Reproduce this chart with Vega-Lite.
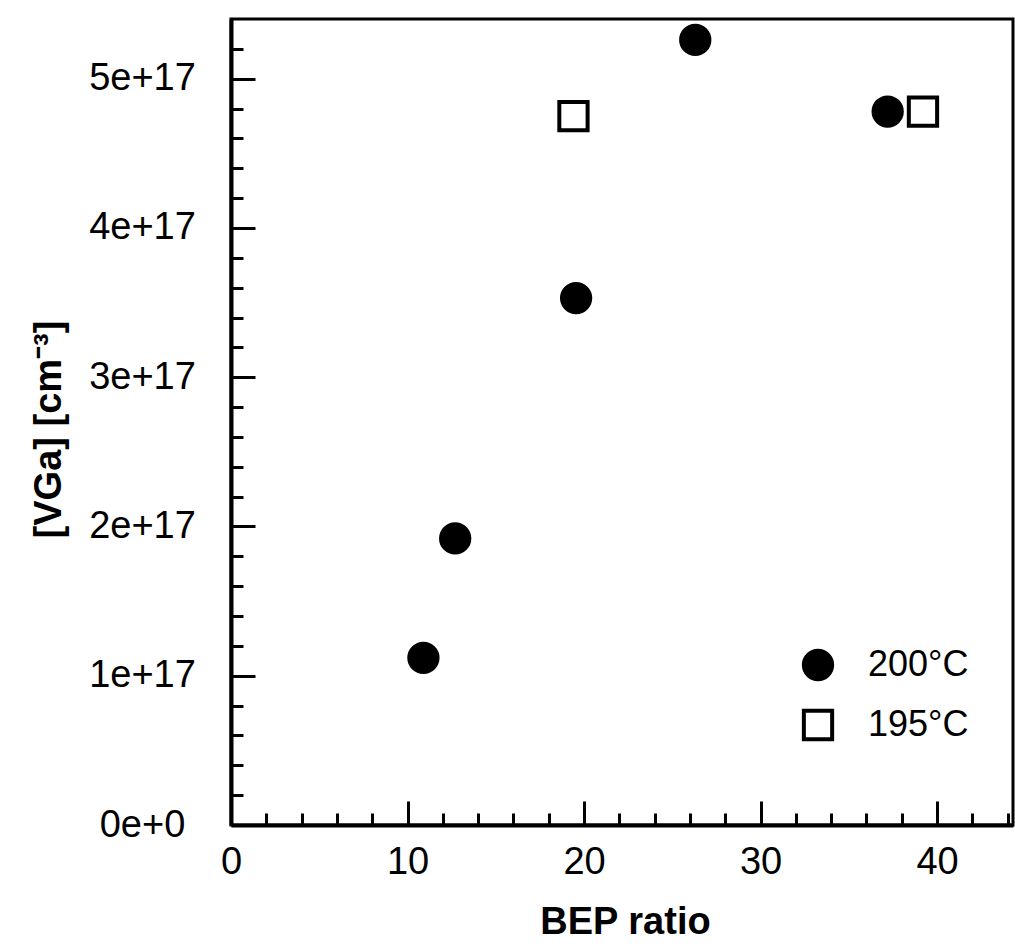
{
  "$schema": "https://vega.github.io/schema/vega-lite/v6.json",
  "width": 782,
  "height": 806,
  "autosize": {"type": "none"},
  "padding": {"left": 231, "top": 19, "right": 2, "bottom": 122},
  "background": "white",
  "config": {
    "font": "Liberation Sans",
    "view": {"stroke": "black", "strokeWidth": 3},
    "axis": {
      "domainColor": "black",
      "domainWidth": 4,
      "tickColor": "black",
      "tickWidth": 3,
      "labelColor": "black",
      "labelFont": "Liberation Sans",
      "labelFontSize": 38,
      "titleColor": "black",
      "titleFont": "Liberation Sans",
      "titleFontSize": 38,
      "titleFontWeight": "bold",
      "grid": false
    }
  },
  "data": {
    "values": [
      {"bep": 10.9, "vga": 1.12e17, "temp": "200°C"},
      {"bep": 12.7, "vga": 1.92e17, "temp": "200°C"},
      {"bep": 19.55, "vga": 3.53e17, "temp": "200°C"},
      {"bep": 26.3, "vga": 5.26e17, "temp": "200°C"},
      {"bep": 37.2, "vga": 4.78e17, "temp": "200°C"},
      {"bep": 19.4, "vga": 4.75e17, "temp": "195°C"},
      {"bep": 39.2, "vga": 4.78e17, "temp": "195°C"}
    ]
  },
  "layer": [
    {
      "mark": {"type": "point", "opacity": 0},
      "encoding": {
        "x": {
          "field": "bep",
          "type": "quantitative",
          "scale": {"domain": [0, 44.3], "nice": false, "zero": false},
          "axis": {
            "orient": "bottom",
            "title": null,
            "labels": false,
            "domain": false,
            "values": [2, 4, 6, 8, 12, 14, 16, 18, 22, 24, 26, 28, 32, 34, 36, 38, 42, 44],
            "tickSize": -12
          }
        },
        "y": {
          "field": "vga",
          "type": "quantitative",
          "scale": {"domain": [0, 5.4e17], "nice": false, "zero": true},
          "axis": {
            "orient": "left",
            "title": null,
            "labels": false,
            "domain": false,
            "values": [2e16, 4e16, 6e16, 8e16, 1.2e17, 1.4e17, 1.6e17, 1.8e17, 2.2e17, 2.4e17, 2.6e17, 2.8e17, 3.2e17, 3.4e17, 3.6e17, 3.8e17, 4.2e17, 4.4e17, 4.6e17, 4.8e17, 5.2e17],
            "tickSize": -12
          }
        }
      }
    },
    {
      "mark": {"type": "point", "filled": false, "strokeWidth": 4, "size": 800, "opacity": 1},
      "encoding": {
        "x": {
          "field": "bep",
          "type": "quantitative",
          "axis": {
            "orient": "bottom",
            "title": "BEP ratio",
            "values": [0, 10, 20, 30, 40],
            "tickSize": -24,
            "labelPadding": 42,
            "labelFlush": false,
            "labelOverlap": false,
            "titleX": 394,
            "titleY": 108,
            "titleAlign": "center",
            "titleBaseline": "alphabetic"
          }
        },
        "y": {
          "field": "vga",
          "type": "quantitative",
          "axis": {
            "orient": "left",
            "title": "[VGa]  [cm⁻³]",
            "values": [0, 1e17, 2e17, 3e17, 4e17, 5e17],
            "labelExpr": "datum.value === 0 ? '0e+0' : round(datum.value / 1e17) + 'e+17'",
            "tickSize": -24,
            "labelPadding": 113,
            "labelAlign": "center",
            "labelFlush": false,
            "labelOverlap": false,
            "titleX": -171,
            "titleY": 410,
            "titleAngle": 270,
            "titleAlign": "center",
            "titleBaseline": "alphabetic"
          }
        },
        "shape": {
          "field": "temp",
          "type": "nominal",
          "scale": {"domain": ["200°C", "195°C"], "range": ["circle", "square"]},
          "legend": {
            "title": null,
            "orient": "none",
            "legendX": 569,
            "legendY": 628,
            "labelFont": "Liberation Sans",
            "labelFontSize": 36,
            "labelColor": "black",
            "labelOffset": 32,
            "rowPadding": 14,
            "symbolSize": 800,
            "symbolStrokeWidth": 4,
            "padding": 0
          }
        },
        "fill": {
          "field": "temp",
          "type": "nominal",
          "scale": {"domain": ["200°C", "195°C"], "range": ["black", "white"]},
          "legend": {
            "title": null,
            "orient": "none",
            "legendX": 569,
            "legendY": 628,
            "labelFont": "Liberation Sans",
            "labelFontSize": 36,
            "labelColor": "black",
            "labelOffset": 32,
            "rowPadding": 14,
            "symbolSize": 800,
            "symbolStrokeWidth": 4,
            "padding": 0
          }
        },
        "stroke": {
          "field": "temp",
          "type": "nominal",
          "scale": {"domain": ["200°C", "195°C"], "range": ["black", "black"]},
          "legend": {
            "title": null,
            "orient": "none",
            "legendX": 569,
            "legendY": 628,
            "labelFont": "Liberation Sans",
            "labelFontSize": 36,
            "labelColor": "black",
            "labelOffset": 32,
            "rowPadding": 14,
            "symbolSize": 800,
            "symbolStrokeWidth": 4,
            "padding": 0
          }
        }
      }
    }
  ],
  "resolve": {"axis": {"x": "independent", "y": "independent"}}
}
